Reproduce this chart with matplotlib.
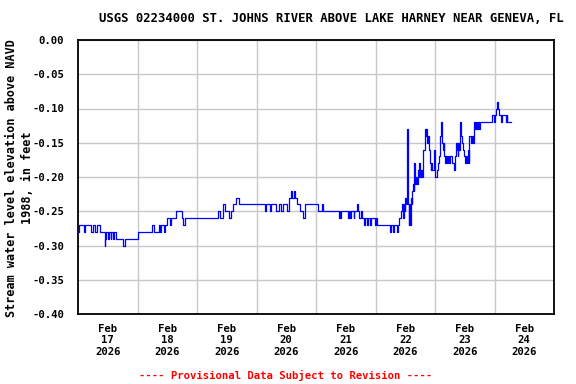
import matplotlib
matplotlib.use("Agg")
import matplotlib.pyplot as plt
import numpy as np

# Step breakpoints: (hours since Feb 17 2026 00:00, water level in ft)
feb17_18 = [
    (0.2, -0.28), (0.5, -0.27), (2.5, -0.28), (2.8, -0.27), (5.2, -0.28), (5.9, -0.27),
    (7.0, -0.28), (7.5, -0.27), (8.9, -0.28), (10.8, -0.30), (11.0, -0.29), (11.3, -0.28),
    (12.1, -0.29), (12.6, -0.28), (13.2, -0.29), (13.5, -0.28), (14.0, -0.29), (14.5, -0.28),
    (15.3, -0.29), (18.2, -0.30), (18.8, -0.29), (24.3, -0.28), (29.9, -0.27), (30.5, -0.28),
    (32.5, -0.27), (33.0, -0.28), (33.5, -0.27), (34.8, -0.28), (35.2, -0.27), (35.8, -0.26),
    (37.2, -0.27), (37.7, -0.26), (39.5, -0.25), (41.9, -0.26), (42.4, -0.27), (43.0, -0.26),
]
feb19_20 = [
    (56.5, -0.25), (57.2, -0.26), (58.5, -0.24), (59.2, -0.25), (60.9, -0.26), (61.6, -0.25),
    (62.5, -0.24), (63.9, -0.23), (65.0, -0.24), (75.4, -0.25), (76.0, -0.24), (77.6, -0.25),
    (78.0, -0.24), (80.0, -0.25), (81.0, -0.24), (82.0, -0.25), (82.7, -0.24), (84.4, -0.25),
    (85.0, -0.23), (86.0, -0.22), (86.5, -0.23), (87.0, -0.22), (87.7, -0.23), (88.3, -0.24),
    (89.4, -0.25), (90.7, -0.26), (91.4, -0.24), (96.8, -0.25), (98.4, -0.24), (98.8, -0.25),
]
feb21_22 = [
    (105.1, -0.26), (105.5, -0.25), (105.8, -0.26), (106.0, -0.25), (108.9, -0.26),
    (109.4, -0.25), (109.7, -0.26), (110.3, -0.25), (111.3, -0.26), (111.5, -0.25),
    (112.5, -0.24), (112.9, -0.25), (113.4, -0.26), (114.0, -0.25), (114.5, -0.26),
    (115.2, -0.27), (115.6, -0.26), (116.4, -0.27), (116.9, -0.26), (117.9, -0.27),
    (118.2, -0.26), (119.7, -0.27), (120.0, -0.26), (120.5, -0.27), (125.8, -0.28),
    (126.4, -0.27), (127.0, -0.28), (127.4, -0.27), (128.7, -0.28), (129.1, -0.27),
    (129.5, -0.26), (130.4, -0.25), (130.8, -0.24), (131.1, -0.26), (131.4, -0.24),
    (131.7, -0.25), (132.0, -0.23), (132.3, -0.24), (132.8, -0.13), (133.0, -0.20),
    (133.2, -0.24), (133.4, -0.27), (133.6, -0.24), (133.8, -0.27), (134.4, -0.23),
    (134.6, -0.24), (134.8, -0.22), (135.0, -0.21), (135.4, -0.22), (135.7, -0.18),
    (136.0, -0.21), (136.4, -0.20), (136.7, -0.21), (137.0, -0.19), (137.4, -0.20),
    (137.7, -0.18), (138.0, -0.20), (138.4, -0.19), (138.8, -0.20), (139.1, -0.16),
    (140.0, -0.13), (140.3, -0.14), (140.5, -0.13), (140.8, -0.15), (141.1, -0.14),
    (141.5, -0.16), (141.8, -0.18), (142.2, -0.19), (142.5, -0.18), (142.8, -0.19),
    (143.5, -0.16), (143.8, -0.18),
]
feb23_24 = [
    (144.1, -0.20), (144.9, -0.19), (145.4, -0.18), (145.8, -0.17), (146.1, -0.14),
    (146.6, -0.12), (146.9, -0.15), (147.1, -0.16), (147.5, -0.15), (147.8, -0.17),
    (148.2, -0.18), (148.5, -0.17), (149.0, -0.18), (149.4, -0.17), (149.8, -0.18),
    (150.2, -0.17), (151.0, -0.18), (151.5, -0.19), (151.9, -0.17), (152.5, -0.15),
    (152.8, -0.16), (153.1, -0.17), (153.4, -0.15), (153.8, -0.16), (154.1, -0.12),
    (154.4, -0.13), (154.6, -0.14), (154.9, -0.15), (155.2, -0.16), (155.7, -0.17),
    (156.2, -0.18), (156.5, -0.17), (156.8, -0.18), (157.3, -0.16), (157.6, -0.18),
    (157.9, -0.14), (158.4, -0.15), (158.8, -0.14), (159.2, -0.15), (159.6, -0.14),
    (159.9, -0.12), (160.3, -0.13), (160.6, -0.12), (161.1, -0.13), (161.4, -0.12),
    (161.9, -0.13), (162.3, -0.12), (167.0, -0.11), (167.7, -0.12), (168.0, -0.11),
    (168.8, -0.10), (169.0, -0.09), (169.3, -0.10), (169.7, -0.11), (170.6, -0.12),
    (170.9, -0.11), (172.6, -0.12), (172.9, -0.11), (173.2, -0.12), (174.6, -0.12),
]

x_tick_hours = [12, 36, 60, 84, 108, 132, 156, 180]
x_tick_labels = ["Feb\n17\n2026", "Feb\n18\n2026", "Feb\n19\n2026", "Feb\n20\n2026",
                 "Feb\n21\n2026", "Feb\n22\n2026", "Feb\n23\n2026", "Feb\n24\n2026"]
y_ticks = [0.00, -0.05, -0.10, -0.15, -0.20, -0.25, -0.30, -0.35, -0.40]

title = "USGS 02234000 ST. JOHNS RIVER ABOVE LAKE HARNEY NEAR GENEVA, FL"
ylabel = "Stream water level elevation above NAVD\n1988, in feet"
footer = "---- Provisional Data Subject to Revision ----"

plt.rcParams['font.family'] = ['DejaVu Sans Mono']
plt.rcParams['font.weight'] = 'bold'
plt.rcParams['axes.unicode_minus'] = False

series = feb17_18 + feb19_20 + feb21_22 + feb23_24
hours = [p[0] for p in series]
level = [p[1] for p in series]

fig = plt.figure(figsize=(5.76, 3.84), dpi=100)
ax = fig.add_axes([78/576, 1 - 314/384, (554 - 78)/576, (314 - 40)/384])

ax.plot(hours, level, drawstyle='steps-post', color='#0000FF', lw=0.9, zorder=3)

ax.set_xlim(0, 192)
ax.set_ylim(-0.40, 0.0)
ax.set_yticks(y_ticks)
ax.set_yticklabels([f"{v:.2f}" for v in y_ticks], fontsize=7.7, fontweight='bold')
ax.set_xticks(x_tick_hours)
ax.set_xticklabels(x_tick_labels, fontsize=7.7, fontweight='bold', linespacing=1.2)
ax.set_xticks(np.arange(24, 192, 24), minor=True)
ax.tick_params(axis='both', which='both', length=0)
ax.tick_params(axis='y', pad=10)
ax.tick_params(axis='x', pad=7)

ax.grid(True, axis='y', which='major', color='#C8C8C8', lw=1.0)
ax.grid(True, axis='x', which='minor', color='#C8C8C8', lw=1.0)
ax.set_axisbelow(True)
for s in ax.spines.values():
    s.set_linewidth(1.3)
    s.set_color('black')

fig.text(331/576, 1 - 19/384, title, ha='center', va='center', fontsize=8.8, fontweight='bold')
fig.text(19.5/576, 1 - 178/384, ylabel, ha='center', va='center', rotation=90,
         fontsize=8.5, fontweight='bold', multialignment='center', linespacing=1.25)
fig.text(286/576, 1 - 375/384, footer, ha='center', va='center', fontsize=7.7,
         fontweight='bold', color='#FF0000')

fig.savefig("out.png", dpi=100)
